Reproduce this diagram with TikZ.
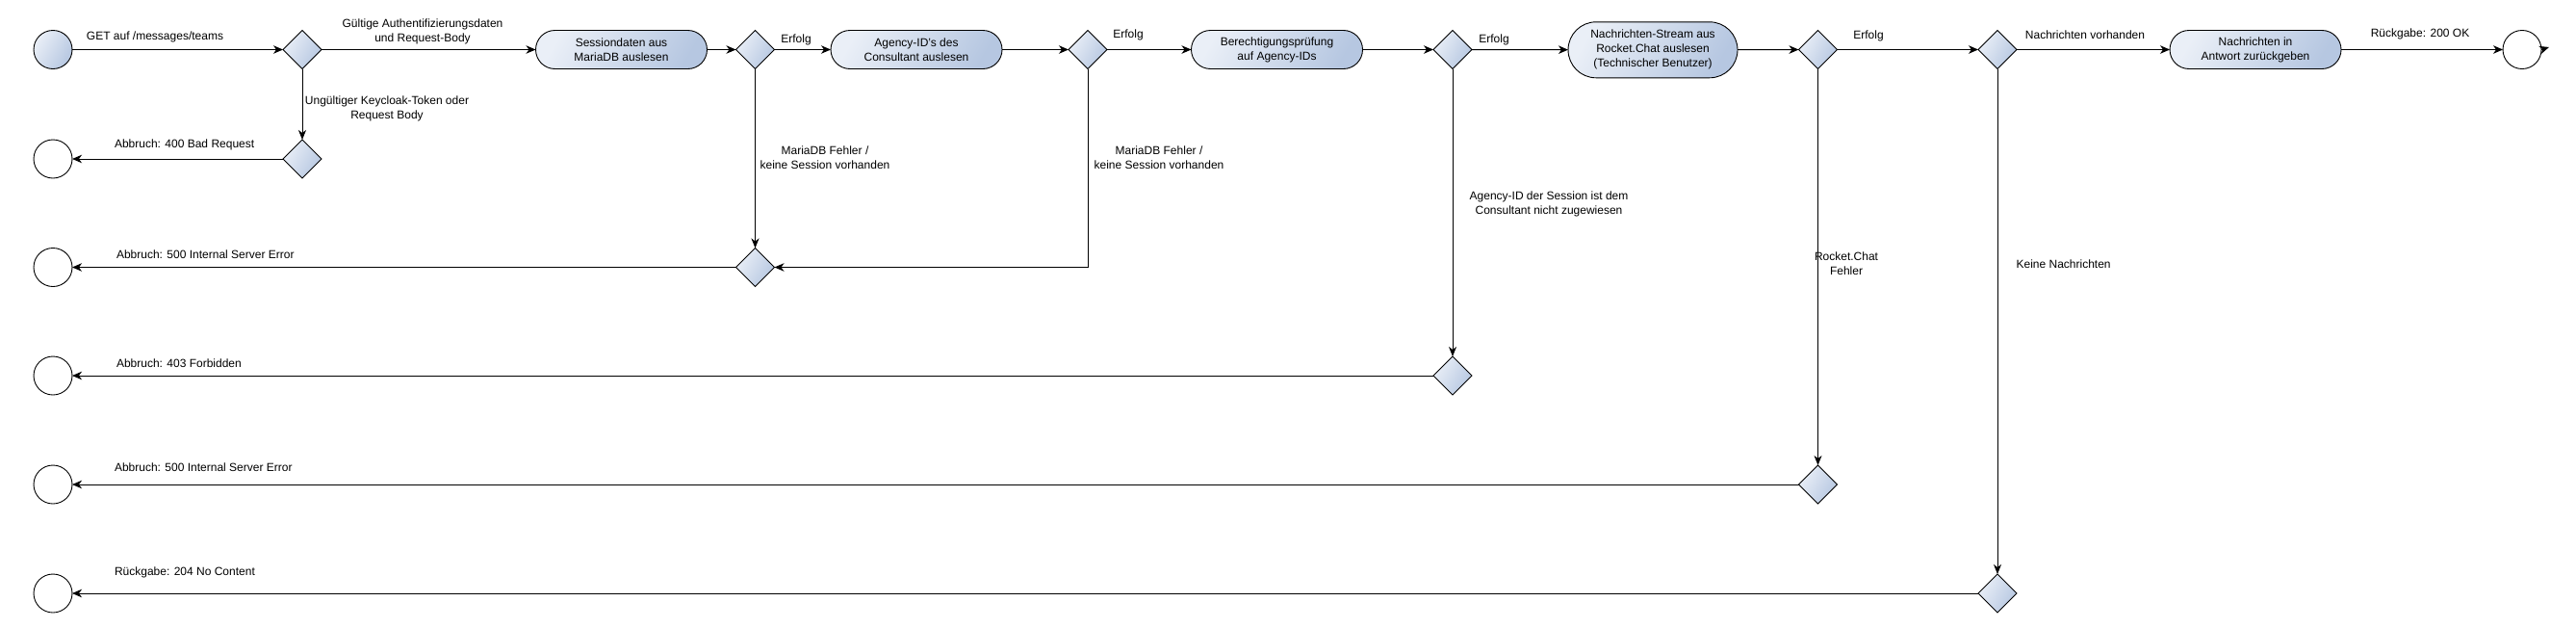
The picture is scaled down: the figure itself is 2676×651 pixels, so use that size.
\documentclass[tikz,border=0pt]{standalone}
\usepackage{fontspec}
\setmainfont{Liberation Sans}
\usetikzlibrary{shapes.geometric,arrows.meta}
\definecolor{flight}{RGB}{234,239,247}
\definecolor{fdark}{RGB}{182,199,225}
\begin{document}
\begin{tikzpicture}[x=1pt,y=-1pt,
  font=\fontsize{12}{15}\selectfont,
  every node/.style={inner sep=0pt, outer sep=0pt},
  shade/.style={top color=flight, bottom color=fdark, shading angle=60},
  act/.style={draw=black, line width=0.9pt, shade, minimum width=178pt, minimum height=40pt, rounded corners=20pt, align=center},
  dec/.style={draw=black, line width=0.8pt, shade, diamond, minimum width=40pt, minimum height=40pt, aspect=1},
  startnode/.style={draw=black, line width=0.9pt, shade, circle, minimum size=40pt},
  endnode/.style={draw=black, line width=0.9pt, fill=white, circle, minimum size=40pt},
  flow/.style={draw=black, line width=1pt, -{Stealth[length=10pt,width=8.5pt,inset=3pt]}},
  vflow/.style={draw=black, line width=0.8pt, -{Stealth[length=10pt,width=8pt,inset=3pt]}},
  lbl/.style={align=center}
]
\useasboundingbox (0,0) rectangle (2676,651);
% row 1
\node[startnode] (start) at (55,51.5) {};
\node[dec] (d1) at (314,51.5) {};
\node[act] (s1) at (645.5,51.5) {Sessiondaten aus\\MariaDB auslesen};
\node[dec] (d2) at (784.5,51.5) {};
\node[act] (a1) at (952,51.5) {Agency-ID's des\\Consultant auslesen};
\node[dec] (d3) at (1130,51.5) {};
\node[act] (b1) at (1326.5,51.5) {Berechtigungsprüfung\\auf Agency-IDs};
\node[dec] (d4) at (1509,51.5) {};
\node[act, minimum width=176pt, minimum height=58pt, rounded corners=29pt] (st) at (1717,51.8) {Nachrichten-Stream aus\\Rocket.Chat auslesen\\(Technischer Benutzer)};
\node[dec] (d5) at (1888.5,51.5) {};
\node[dec] (d6) at (2075,51.5) {};
\node[act] (n1) at (2343,51.5) {Nachrichten in\\Antwort zurückgeben};
\node[endnode] (fin) at (2620,51.5) {};
% lower rows
\node[endnode] (e2) at (55,165) {};
\node[dec] (d1b) at (314,165) {};
\node[endnode] (e3) at (55,277.5) {};
\node[dec] (d2b) at (784.5,277.5) {};
\node[endnode] (e4) at (55,390) {};
\node[dec] (d4b) at (1509,390) {};
\node[endnode] (e5) at (55,503) {};
\node[dec] (d5b) at (1888.5,503) {};
\node[endnode] (e6) at (55,616) {};
\node[dec] (d6b) at (2075,616) {};
% main flow
\draw[flow] (start) -- (d1);
\draw[flow] (d1) -- (s1);
\draw[flow] (s1) -- (d2);
\draw[flow] (d2) -- (a1);
\draw[flow] (a1) -- (d3);
\draw[flow] (d3) -- (b1);
\draw[flow] (b1) -- (d4);
\draw[flow] (d4) -- (st);
\draw[flow] (st) -- (d5);
\draw[flow] (d5) -- (d6);
\draw[flow] (d6) -- (n1);
\draw[flow] (n1) -- (fin);
\coordinate (finmark) at (2648,49);
\draw[flow] (fin.east) -- (finmark);
% branches
\draw[vflow] (d1) -- (d1b);
\draw[flow] (d1b) -- (e2);
\draw[vflow] (d2) -- (d2b);
\draw[flow] (d3.south) |- (d2b.east);
\draw[flow] (d2b) -- (e3);
\draw[vflow] (d4) -- (d4b);
\draw[flow] (d4b) -- (e4);
\draw[vflow] (d5) -- (d5b);
\draw[flow] (d5b) -- (e5);
\draw[vflow] (d6) -- (d6b);
\draw[flow] (d6b) -- (e6);
% labels
\node[lbl] (l1) at (161,38.3) {GET auf /messages/teams};
\node[lbl] (l2) at (439,33) {Gültige Authentifizierungsdaten\\und Request-Body};
\node[lbl] (l3) at (827,41.5) {Erfolg};
\node[lbl] (l4) at (1172,36) {Erfolg};
\node[lbl] (l5) at (1552,41.5) {Erfolg};
\node[lbl] (l6) at (1941,37.7) {Erfolg};
\node[lbl] (l7) at (2166,36) {Nachrichten vorhanden};
\node[lbl] (l8) at (2514,35.7) {Rückgabe: 200 OK};
\node[lbl] (l9) at (402,112.7) {Ungültiger Keycloak-Token oder\\Request Body};
\node[lbl] (l10) at (857,164) {MariaDB Fehler /\\keine Session vorhanden};
\node[lbl] (l11) at (1204,164) {MariaDB Fehler /\\keine Session vorhanden};
\node[lbl] (l12) at (1609,211.5) {Agency-ID der Session ist dem\\Consultant nicht zugewiesen};
\node[lbl] (l13) at (1918,274) {Rocket.Chat\\Fehler};
\node[lbl] (l14) at (2143.6,274.3) {Keine Nachrichten};
\node[anchor=west] (r2) at (119,150) {Abbruch: 400 Bad Request};
\node[anchor=west] (r3) at (121,264) {Abbruch: 500 Internal Server Error};
\node[anchor=west] (r4) at (121,377) {Abbruch: 403 Forbidden};
\node[anchor=west] (r5) at (119,485.5) {Abbruch: 500 Internal Server Error};
\node[anchor=west] (r6) at (119,594) {Rückgabe: 204 No Content};
\end{tikzpicture}
\end{document}
